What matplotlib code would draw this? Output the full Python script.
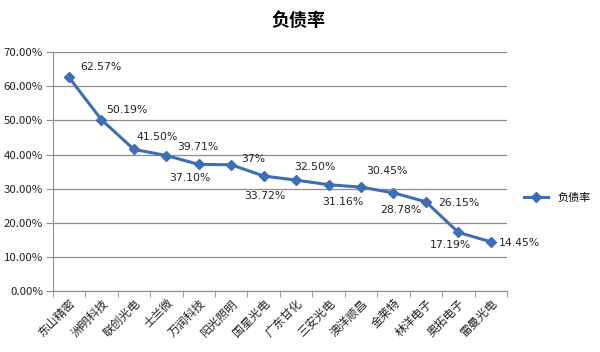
import matplotlib
matplotlib.use("Agg")
import matplotlib.pyplot as plt
from matplotlib.ticker import FixedLocator, PercentFormatter

plt.rcParams['font.family'] = ['Noto Sans CJK SC', 'DejaVu Sans']

categories = ["东山精密", "洲明科技", "联创光电", "士兰微", "万润科技", "阳光照明", "国星光电",
              "广东甘化", "三安光电", "澳洋顺昌", "金莱特", "林洋电子", "奥拓电子", "雷曼光电"]
values = [62.57, 50.19, 41.50, 39.71, 37.10, 37.0, 33.72, 32.50, 31.16, 30.45, 28.78, 26.15, 17.19, 14.45]
labels = ["62.57%", "50.19%", "41.50%", "39.71%", "37.10%", "37%", "33.72%", "32.50%", "31.16%",
          "30.45%", "28.78%", "26.15%", "17.19%", "14.45%"]
yticks = [0, 10, 20, 30, 40, 50, 60, 70]

# label placement in pixels (dx, dy, horizontal alignment)
placement = [(11, 10, "left"), (5, 10, "left"), (3, 12, "left"), (11, 9, "left"),
             (-9, -14, "center"), (10, 6, "left"), (1, -20, "center"), (-2, 13, "left"),
             (14, -17, "center"), (5, 16, "left"), (7, -17, "center"), (12, -1, "left"),
             (-8, -13, "center"), (8, -1, "left")]

fig = plt.figure(figsize=(6.0, 3.52), dpi=100)
ax = fig.add_axes([0.088, 0.173, 0.757, 0.679])

x = list(range(len(categories)))
ax.plot(x, values, color="#3D6FB6", lw=2.2, marker="D", ms=5, label="负债率", zorder=3)

for xi, v, lab, (dx, dy, ha) in zip(x, values, labels, placement):
    ax.annotate(lab, (xi, v), xytext=(dx, dy), textcoords="offset pixels",
                ha=ha, va="center", fontsize=7.8, color="#222222",
                family=["DejaVu Sans"])

ax.set_xlim(-0.5, len(categories) - 0.5)
ax.set_ylim(0, 70)
ax.set_yticks(yticks)
ax.yaxis.set_major_formatter(PercentFormatter(decimals=2))
ax.grid(axis="y", color="#8C8C8C", lw=0.9)
ax.set_axisbelow(True)

ax.set_xticks(x)
ax.set_xticklabels(categories, rotation=45, ha="right", rotation_mode="anchor",
                   fontsize=8.5, color="#222222")
ax.tick_params(axis="x", length=0, pad=4)
ax.xaxis.set_minor_locator(FixedLocator([i - 0.5 for i in range(len(categories) + 1)]))
ax.tick_params(axis="x", which="minor", length=4, color="#8C8C8C")
ax.tick_params(axis="y", length=5, color="#8C8C8C", labelsize=8.2, labelcolor="#222222", pad=2)

for s in ["top", "right"]:
    ax.spines[s].set_visible(False)
for s in ["left", "bottom"]:
    ax.spines[s].set_color("#8C8C8C")

fig.suptitle("负债率", x=0.497, y=0.968, fontsize=13, fontweight="bold")
ax.legend(loc="center left", bbox_to_anchor=(1.015, 0.39), frameon=False, fontsize=8,
          handlelength=2.2)

fig.savefig("out.png", dpi=100)
